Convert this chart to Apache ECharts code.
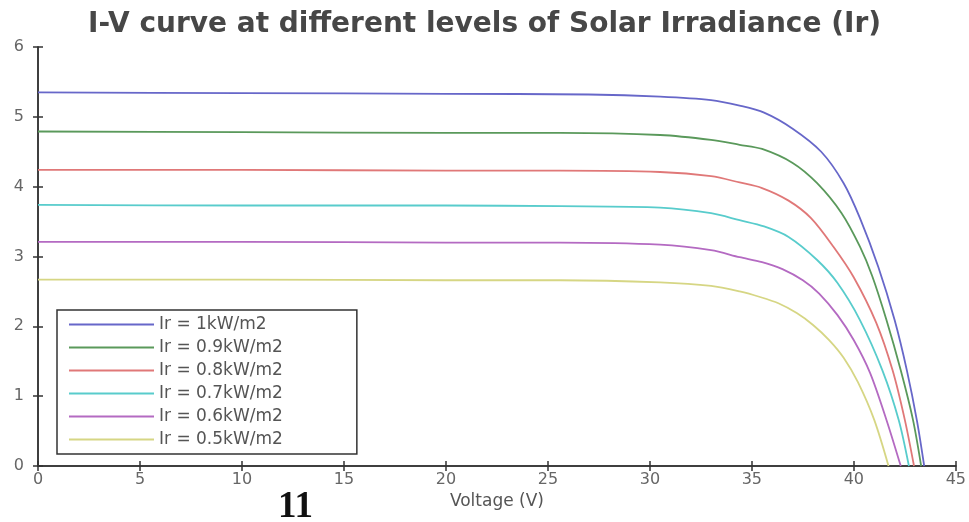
<!DOCTYPE html>
<html>
<head>
<meta charset="utf-8">
<script src="https://cdn.jsdelivr.net/npm/echarts@6/dist/echarts.min.js"></script>
<style>html,body{margin:0;padding:0;background:#fff;}#c{width:969px;height:522px;}</style>
</head>
<body>
<div id="c"></div>
<script>
// Tick labels
const xTicks = [0, 5, 10, 15, 20, 25, 30, 35, 40, 45];
const yTicks = [0, 1, 2, 3, 4, 5, 6];

// Series names
const seriesNames = ['Ir = 1kW/m2', 'Ir = 0.9kW/m2', 'Ir = 0.8kW/m2', 'Ir = 0.7kW/m2', 'Ir = 0.6kW/m2', 'Ir = 0.5kW/m2'];

// Voltage (V) / Current (A)
const v10 = [0, 10, 20, 27, 30.5, 33, 34.4, 35.6, 37, 38.4, 39.5, 40.3, 41.2, 42.0, 42.6, 43.1, 43.45];
const i10 = [5.35, 5.34, 5.33, 5.32, 5.29, 5.24, 5.16, 5.06, 4.83, 4.50, 4.05, 3.55, 2.85, 2.09, 1.37, 0.64, 0];

const v09 = [0, 10, 20, 25.6, 30.5, 33, 34.4, 35.5, 37.0, 38.2, 39.4, 40.3, 40.9, 41.6, 42.3, 42.9, 43.3];
const i09 = [4.79, 4.78, 4.77, 4.77, 4.74, 4.67, 4.60, 4.54, 4.34, 4.05, 3.62, 3.14, 2.72, 2.09, 1.37, 0.66, 0];

const v08 = [0, 10, 20, 25.6, 30.5, 33, 34.4, 35.5, 36.8, 37.9, 39.0, 40.0, 41.1, 41.9, 42.5, 42.95];
const i08 = [4.24, 4.24, 4.23, 4.23, 4.21, 4.15, 4.06, 3.98, 3.80, 3.55, 3.14, 2.70, 2.05, 1.37, 0.66, 0];

const v07 = [0, 10, 20, 25.6, 30.5, 33, 34.4, 35.6, 36.8, 38.2, 39.2, 40.3, 41.4, 42.2, 42.7];
const i07 = [3.74, 3.73, 3.73, 3.72, 3.70, 3.62, 3.52, 3.43, 3.28, 2.95, 2.62, 2.09, 1.37, 0.66, 0];

const v06 = [0, 10, 20, 25.6, 30.5, 33, 34.4, 35.5, 36.5, 37.5, 38.3, 39.2, 40.0, 40.8, 41.6, 42.3];
const i06 = [3.21, 3.21, 3.20, 3.20, 3.17, 3.09, 2.99, 2.92, 2.82, 2.66, 2.47, 2.16, 1.80, 1.33, 0.66, 0];

const v05 = [0, 10, 20, 25.6, 30.5, 33, 34.4, 35.4, 36.3, 37.2, 38.0, 38.8, 39.5, 40.2, 41.0, 41.7];
const i05 = [2.67, 2.67, 2.66, 2.66, 2.63, 2.58, 2.50, 2.42, 2.33, 2.19, 2.02, 1.80, 1.55, 1.20, 0.66, 0];

const colors = ['#6767c9', '#5a995b', '#e07878', '#58cccc', '#b46ac2', '#d6d684'];

const voltages = [v10, v09, v08, v07, v06, v05];
const currents = [i10, i09, i08, i07, i06, i05];

function zip(vs, is) { return vs.map((v, k) => [v, is[k]]); }

const chart = echarts.init(document.getElementById('c'), null, { renderer: 'canvas' });

const axisLineStyle = { color: '#333', width: 1.5 };
const FONT = 'DejaVu Sans';

const option = {
  animation: false,
  backgroundColor: '#fff',
  title: {
    text: 'I-V curve at different levels of Solar Irradiance (Ir)',
    left: 'center',
    top: 6,
    textStyle: { fontFamily: FONT, fontSize: 28, fontWeight: 'bold', color: '#474747' }
  },
  grid: { left: 38, right: 12, top: 47, bottom: 56 },
  legend: {
    orient: 'vertical',
    left: 57,
    top: 310,
    padding: [6, 74, 6, 12],
    itemGap: 6,
    itemWidth: 85,
    itemHeight: 2,
    icon: 'rect',
    borderColor: '#333',
    borderWidth: 1.5,
    backgroundColor: '#fff',
    textStyle: { fontFamily: FONT, fontSize: 17, color: '#555', lineHeight: 17 },
    data: seriesNames
  },
  xAxis: [{
    type: 'value', min: 0, max: 45, interval: 5,
    name: 'Voltage (V)', nameLocation: 'middle', nameGap: 27,
    nameTextStyle: { fontFamily: FONT, fontSize: 17, color: '#555' },
    axisLine: { show: true, lineStyle: axisLineStyle },
    axisTick: { show: true, inside: true, length: 5, lineStyle: axisLineStyle },
    axisLabel: { fontFamily: FONT, fontSize: 16, color: '#666', margin: 6,
      formatter: v => xTicks.includes(v) ? String(v) : '' },
    splitLine: { show: false }
  }, {
    type: 'value', min: 0, max: 45, interval: 5, position: 'top',
    axisLine: { show: true, lineStyle: axisLineStyle },
    axisTick: { show: true, inside: true, length: 5, lineStyle: axisLineStyle },
    axisLabel: { show: false }, splitLine: { show: false }
  }],
  yAxis: [{
    type: 'value', min: 0, max: 6, interval: 1,
    axisLine: { show: true, lineStyle: axisLineStyle },
    axisTick: { show: true, inside: true, length: 5, lineStyle: axisLineStyle },
    axisLabel: { fontFamily: FONT, fontSize: 16, color: '#666', margin: 14,
      formatter: v => yTicks.includes(v) ? String(v) : '' },
    splitLine: { show: false }
  }, {
    type: 'value', min: 0, max: 6, interval: 1, position: 'right',
    axisLine: { show: true, lineStyle: axisLineStyle },
    axisTick: { show: true, inside: true, length: 5, lineStyle: axisLineStyle },
    axisLabel: { show: false }, splitLine: { show: false }
  }],
  graphic: [{
    type: 'text', left: 278, top: 489,
    style: { text: '11', font: 'bold 37px "Liberation Serif"', fill: '#111' }
  }],
  series: seriesNames.map((name, k) => ({
    name: name,
    type: 'line',
    xAxisIndex: 0,
    yAxisIndex: 0,
    symbol: 'none',
    smooth: 0.3,
    lineStyle: { color: colors[k], width: 1.8 },
    itemStyle: { color: colors[k] },
    data: zip(voltages[k], currents[k])
  }))
};

chart.setOption(option);
</script>
</body>
</html>
